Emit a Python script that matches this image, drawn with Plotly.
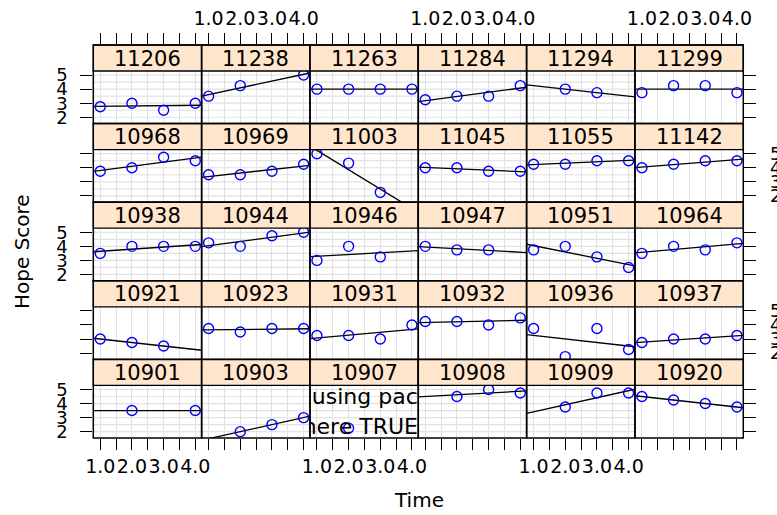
import numpy as np
import plotly.graph_objects as go

# ---------------- data ----------------
time_points = [1, 2, 3, 4]
x_tick_vals = [1, 1.5, 2, 2.5, 3, 3.5, 4]
x_tick_text = ["1.0", "", "2.0", "", "3.0", "", "4.0"]
y_tick_vals = [2, 3, 4, 5]
y_tick_text = ["2", "3", "4", "5"]
y_grid_vals = [2, 2.5, 3, 3.5, 4, 4.5, 5]

ids_row1 = ["11206", "11238", "11263", "11284", "11294", "11299"]
scores_row1 = [
    [2.75, 3.0, 2.5, 3.0],
    [3.5, 4.25, None, 5.0],
    [4.0, 4.0, 4.0, 4.0],
    [3.25, 3.5, 3.5, 4.25],
    [None, 4.0, 3.75, None],
    [3.75, 4.25, 4.25, 3.75],
]
ids_row2 = ["10968", "10969", "11003", "11045", "11055", "11142"]
scores_row2 = [
    [3.75, 4.0, 4.75, 4.5],
    [3.5, 3.5, 3.75, 4.25],
    [5.0, 4.33, 2.25, None],
    [4.0, 4.0, 3.75, 3.75],
    [4.25, 4.25, 4.5, 4.5],
    [4.0, 4.25, 4.5, 4.5],
]
ids_row3 = ["10938", "10944", "10946", "10947", "10951", "10964"]
scores_row3 = [
    [3.5, 4.0, 4.0, 4.0],
    [4.25, 4.0, 4.75, 5.0],
    [3.0, 4.0, 3.25, None],
    [4.0, 3.75, 3.75, None],
    [3.75, 4.0, 3.25, 2.5],
    [3.5, 4.0, 3.75, 4.25],
]
ids_row4 = ["10921", "10923", "10931", "10932", "10936", "10937"]
scores_row4 = [
    [3.0, 2.75, 2.5, None],
    [3.75, 3.5, 3.75, 3.75],
    [3.25, 3.25, 3.0, 4.0],
    [4.25, 4.25, 4.0, 4.5],
    [3.75, 1.75, 3.75, 2.25],
    [2.75, 3.0, 3.0, 3.25],
]
ids_row5 = ["10901", "10903", "10907", "10908", "10909", "10920"]
scores_row5 = [
    [None, 3.5, None, 3.5],
    [None, 2.0, 2.5, 3.0],
    [None, 2.25, None, None],
    [None, 4.5, 5.0, 4.75],
    [None, 3.75, 4.75, 4.75],
    [4.5, 4.25, 4.0, 3.75],
]

row_ids = [ids_row1, ids_row2, ids_row3, ids_row4, ids_row5]
row_scores = [scores_row1, scores_row2, scores_row3, scores_row4, scores_row5]

# ---------------- layout geometry (pixels) ----------------
W, H = 777, 515
X0, CW = 93.3, 108.33
Y0, RH, SH, PH = 45.0, 78.6, 26.0, 52.6
XR = [0.78, 4.2]
Y_LO, Y_PANEL_HI = 1.55, 5.29
Y_HI = Y_PANEL_HI + SH * (Y_PANEL_HI - Y_LO) / PH

FONT = "DejaVu Sans"
GRID = "#e2e2e2"
STRIP = "#ffe5cc"

fig = go.Figure()
layout = dict(
    width=W, height=H, autosize=False,
    margin=dict(l=0, r=0, t=0, b=0, pad=0),
    paper_bgcolor="white", plot_bgcolor="white",
    showlegend=False,
    font=dict(family=FONT, color="black"),
)
shapes = []
annotations = []

for r in range(5):
    st = Y0 + RH * r
    pb = st + SH + PH
    for c in range(6):
        idx = r * 6 + c + 1
        xn = "x" if idx == 1 else f"x{idx}"
        yn = "y" if idx == 1 else f"y{idx}"
        xkey = "xaxis" if idx == 1 else f"xaxis{idx}"
        ykey = "yaxis" if idx == 1 else f"yaxis{idx}"
        left = X0 + CW * c
        right = left + CW

        # horizontal grid lines (panel.grid) on the panel's own scale
        for gv in y_grid_vals:
            shapes.append(dict(type="line", xref=f"{xn} domain", yref=yn,
                               x0=0, x1=1, y0=gv, y1=gv,
                               line=dict(color=GRID, width=1.2), layer="below"))

        ys = row_scores[r][c]
        xs_valid = [t for t, v in zip(time_points, ys) if v is not None]
        ys_valid = [v for v in ys if v is not None]

        # regression line (panel.lmline)
        if len(xs_valid) >= 2:
            slope, intercept = np.polyfit(xs_valid, ys_valid, 1)
            fig.add_trace(go.Scatter(
                x=XR, y=[intercept + slope * XR[0], intercept + slope * XR[1]],
                mode="lines", line=dict(color="black", width=1.3),
                xaxis=xn, yaxis=yn, hoverinfo="skip", showlegend=False))
        # points
        fig.add_trace(go.Scatter(
            x=time_points, y=ys, mode="markers",
            marker=dict(symbol="circle-open", size=10, color="#0000ff",
                        line=dict(width=1.4, color="#0000ff")),
            xaxis=xn, yaxis=yn, hoverinfo="skip", showlegend=False,
            cliponaxis=True))

        xa = dict(domain=[left / W, right / W], range=XR, anchor=yn,
                  automargin=False, tickangle=0,
                  tickmode="array", tickvals=x_tick_vals, ticktext=x_tick_text,
                  showgrid=True, gridcolor=GRID, gridwidth=1.2, zeroline=False,
                  showline=False,
                  ticks="", showticklabels=False, fixedrange=True,
                  tickfont=dict(family=FONT, size=19, color="black"))
        if r == 0:
            xa.update(side="top", ticks="outside", ticklen=11, tickwidth=1.3,
                      tickcolor="black", showticklabels=(c % 2 == 1),
                      ticklabelstandoff=0)
        if r == 4:
            xa.update(side="bottom", ticks="outside", ticklen=11, tickwidth=1.3,
                      tickcolor="black", showticklabels=(c % 2 == 0),
                      ticklabelstandoff=0)
        ya = dict(domain=[1 - pb / H, 1 - st / H], range=[Y_LO, Y_HI], anchor=xn,
                  automargin=False, tickangle=0,
                  tickmode="array", tickvals=y_tick_vals, ticktext=y_tick_text,
                  showgrid=False, zeroline=False,
                  showline=False,
                  ticks="", showticklabels=False, fixedrange=True,
                  tickfont=dict(family=FONT, size=18, color="black"))
        if c == 0:
            ya.update(side="left", ticks="outside", ticklen=12, tickwidth=1.3,
                      tickcolor="black", showticklabels=(r % 2 == 0),
                      ticklabelstandoff=9)
        if c == 5:
            ya.update(side="right", ticks="outside", ticklen=12, tickwidth=1.3,
                      tickcolor="black", showticklabels=(r % 2 == 1),
                      ticklabelstandoff=10)
        layout[xkey] = xa
        layout[ykey] = ya

        # strip
        shapes.append(dict(type="rect", xref="paper", yref="paper",
                           x0=left / W, x1=right / W,
                           y0=1 - (st + SH) / H, y1=1 - st / H,
                           fillcolor=STRIP, line=dict(color="black", width=1.3),
                           layer="above"))
        # panel border
        shapes.append(dict(type="rect", xref="paper", yref="paper",
                           x0=left / W, x1=right / W,
                           y0=1 - pb / H, y1=1 - st / H,
                           fillcolor="rgba(0,0,0,0)",
                           line=dict(color="black", width=1.5),
                           layer="above"))
        annotations.append(dict(text=row_ids[r][c], xref="paper", yref="paper",
                                x=(left + right) / 2 / W, y=1 - (st + SH / 2 + 0.5) / H,
                                xanchor="center", yanchor="middle", showarrow=False,
                                font=dict(family=FONT, size=21, color="black")))

# stray message text clipped inside panel 10907 (row 5, column 3)
fig.add_trace(go.Scatter(
    x=[0.84], y=[4.39], mode="text", text=["using package"],
    textposition="middle right", cliponaxis=True,
    textfont=dict(family=FONT, size=22, color="black"),
    xaxis="x27", yaxis="y27", hoverinfo="skip", showlegend=False))
fig.add_trace(go.Scatter(
    x=[-0.02], y=[2.22], mode="text", text=["where TRUE"],
    textposition="middle right", cliponaxis=True,
    textfont=dict(family=FONT, size=22, color="black"),
    xaxis="x27", yaxis="y27", hoverinfo="skip", showlegend=False))

annotations.append(dict(text="Hope Score", xref="paper", yref="paper",
                        x=22 / W, y=1 - 252 / H, textangle=-90,
                        xanchor="center", yanchor="middle", showarrow=False,
                        font=dict(family=FONT, size=20, color="black")))
annotations.append(dict(text="Time", xref="paper", yref="paper",
                        x=419 / W, y=1 - 500 / H,
                        xanchor="center", yanchor="middle", showarrow=False,
                        font=dict(family=FONT, size=20, color="black")))

layout["shapes"] = shapes
layout["annotations"] = annotations
fig.update_layout(**layout)
fig.write_html("out.html",
               config={"displayModeBar": False},
               post_script="document.body.style.margin='0px';document.body.style.overflow='hidden';")
